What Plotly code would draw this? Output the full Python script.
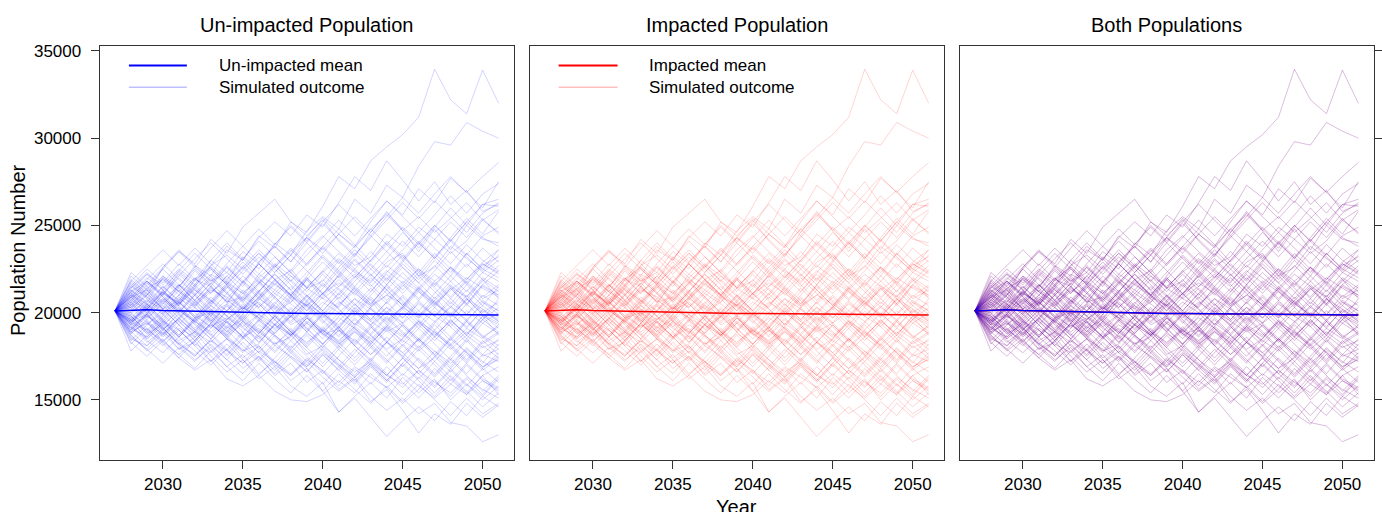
import plotly.graph_objects as go

# Projection years
years = list(range(2027, 2052))

# Mean trajectories of the two populations
unimpacted_mean = [20100, 20130, 20160, 20120, 20100, 20070, 20040, 20020, 19990, 19980, 19960, 19950, 19950,
                   19950, 19940, 19940, 19920, 19920, 19900, 19880, 19890, 19900, 19880, 19860, 19860]
impacted_mean = [20100, 20130, 20160, 20120, 20100, 20070, 20040, 20020, 19990, 19980, 19960, 19950, 19950,
                 19950, 19940, 19940, 19920, 19920, 19900, 19880, 19890, 19900, 19880, 19860, 19860]

# Simulated outcomes (one list per stochastic run)
run_01 = [20100, 21300, 20600, 22000, 21400, 22700, 22100, 23600, 23000, 24400, 23700, 25200, 24600, 26100, 27800, 27100, 28700, 29500, 30200, 31200, 33950, 32200, 31400, 33900, 32000]
run_02 = [20100, 19300, 20500, 21200, 20400, 21900, 22600, 21800, 23200, 22500, 24000, 23300, 24700, 25500, 24800, 26500, 25700, 27300, 26600, 28400, 29800, 29600, 30900, 30400, 30000]
run_03 = [20100, 21100, 22000, 21300, 22400, 21600, 23000, 22300, 21500, 22900, 23800, 22900, 24300, 25400, 24500, 23800, 25200, 26400, 25600, 27100, 26300, 27700, 26900, 27800, 28600]
run_04 = [20100, 21800, 21000, 22600, 23500, 22800, 24200, 23400, 24900, 25700, 26500, 25200, 24400, 25300, 24100, 23200, 24600, 25800, 24700, 23500, 24800, 23600, 25000, 24200, 24000]
run_05 = [20100, 20900, 21800, 21000, 22300, 21500, 22700, 23800, 23000, 24300, 25200, 24400, 25600, 24900, 26300, 27800, 27000, 28700, 27600, 26400, 27500, 26200, 27000, 25800, 26200]
run_06 = [20100, 18800, 19500, 18300, 17600, 18400, 17200, 17900, 16800, 17500, 16400, 17100, 16000, 16700, 15600, 16300, 15200, 14400, 15100, 14200, 14800, 13700, 13500, 12600, 13000]
run_07 = [20100, 19200, 18300, 19000, 17900, 18600, 17500, 16600, 17300, 16200, 16900, 15800, 15200, 16000, 14300, 15100, 14000, 12900, 13800, 14600, 13800, 14900, 14100, 15200, 14600]
run_08 = [20100, 18700, 17800, 18500, 17400, 16700, 17300, 16200, 15800, 16400, 15500, 15000, 14900, 15300, 16100, 15400, 16500, 15700, 14800, 15600, 16800, 15900, 17000, 16100, 15600]
run_09 = [20100, 19400, 20200, 19100, 18200, 18900, 17800, 18500, 17400, 18100, 17000, 16400, 17200, 16300, 15500, 16200, 14900, 15600, 14400, 13100, 14200, 13600, 14800, 14000, 14700]
run_10 = [20100, 19600, 18500, 19200, 18100, 17300, 18000, 16900, 17600, 16500, 17200, 16100, 16800, 15500, 14300, 15200, 16000, 15100, 16300, 15400, 16200, 15000, 15900, 15200, 16200]
run_11 = [20100, 21200, 20400, 21500, 20700, 19800, 20900, 20100, 21300, 20500, 19600, 20800, 21900, 21000, 22200, 21300, 20400, 21600, 22800, 21900, 23000, 22100, 23400, 22500, 23600]
run_12 = [20100, 19000, 19900, 18800, 19700, 20600, 19500, 18600, 19400, 18300, 19300, 20200, 19100, 18200, 19200, 18100, 17300, 18300, 17400, 18500, 17600, 16800, 17800, 16900, 17500]
run_13 = [20100, 20800, 21700, 20900, 20000, 21000, 21900, 21100, 22100, 21200, 22300, 23300, 22400, 21500, 22600, 23600, 22700, 21800, 22900, 24000, 23100, 24300, 25400, 24500, 25800]
run_14 = [20100, 19500, 20300, 19400, 18600, 19500, 18700, 19600, 20500, 19600, 18800, 19800, 18900, 19900, 19000, 18100, 19100, 20100, 19200, 18300, 19300, 18400, 19500, 18600, 19200]
run_15 = [20100, 20600, 19700, 20500, 21400, 20500, 21500, 20600, 19700, 20700, 21700, 20800, 19900, 20900, 21900, 21000, 22000, 21100, 20200, 21200, 20300, 21400, 20400, 21500, 21000]
run_16 = [20100, 21600, 20800, 22000, 21200, 22400, 21500, 20600, 21700, 22800, 21900, 21000, 22100, 23200, 22300, 21400, 20500, 21600, 20700, 19800, 20900, 19900, 21000, 20000, 20600]
run_17 = [20100, 18900, 18100, 19100, 18300, 17500, 18500, 17600, 18600, 17700, 16900, 17900, 17000, 18000, 17100, 16300, 17300, 16400, 17400, 16500, 15700, 16700, 15800, 16800, 16000]
run_18 = [20100, 20400, 19500, 18700, 19700, 20700, 19800, 20800, 21800, 20900, 21900, 21000, 20100, 21100, 20200, 19300, 20300, 21300, 20400, 21500, 20600, 19700, 20800, 19900, 19400]
run_19 = [20100, 21900, 21100, 20200, 21300, 20400, 21500, 22600, 21700, 22800, 23800, 22900, 24000, 23100, 22200, 23300, 24400, 23500, 24600, 23700, 24900, 26000, 25000, 26200, 26500]
run_20 = [20100, 18400, 19300, 20200, 19300, 18400, 19400, 18500, 17700, 18700, 17800, 18800, 19800, 18900, 18000, 19000, 18100, 17200, 18200, 17300, 16400, 17400, 16500, 17600, 17200]
run_21 = [20100, 20900, 20100, 19200, 20200, 19300, 18500, 19500, 18600, 19600, 20600, 19700, 20700, 19800, 18900, 19900, 20900, 20000, 21000, 20100, 21100, 22100, 21200, 22300, 21800]
run_22 = [20100, 19700, 20600, 21500, 20600, 21600, 22600, 21700, 22700, 21800, 20900, 21900, 21000, 20100, 21100, 22100, 21200, 22300, 23300, 22400, 21500, 22600, 21700, 22800, 22200]
run_23 = [20100, 19100, 20000, 19100, 18200, 17500, 18400, 17500, 18500, 19500, 18600, 17700, 18700, 17800, 16900, 17900, 17000, 16100, 17100, 16200, 17200, 16300, 15400, 16400, 15300]
run_24 = [20100, 21400, 22300, 21400, 22400, 23400, 22500, 21600, 22600, 23600, 22700, 21800, 22800, 23800, 22900, 22000, 23000, 24100, 23200, 22300, 23400, 22500, 21600, 22700, 23200]
run_25 = [20100, 20200, 21100, 20200, 19300, 20300, 19400, 20400, 19500, 18600, 19600, 18700, 19700, 18800, 19800, 20800, 19900, 19000, 20000, 19100, 20100, 19200, 18300, 19400, 18800]
run_26 = [20100, 18600, 17900, 18800, 19700, 18800, 19800, 18900, 19900, 20900, 20000, 21000, 20100, 21100, 22100, 21200, 22200, 21300, 20400, 21400, 20500, 21500, 20500, 21600, 21000]
run_27 = [20100, 21000, 21900, 22800, 21900, 21000, 22000, 21100, 20200, 21200, 20300, 19400, 20400, 19500, 18600, 19600, 18700, 19700, 18800, 17900, 18900, 18000, 17100, 18100, 17400]
run_28 = [20100, 19800, 18900, 19800, 20700, 21600, 20700, 21700, 20800, 19900, 20900, 20000, 19100, 18200, 19200, 18300, 19300, 18400, 17500, 18500, 17600, 18600, 17700, 16800, 17700]
run_29 = [20100, 20700, 21800, 21000, 22100, 23100, 24000, 23100, 22200, 23200, 22300, 23300, 24300, 23400, 24500, 25500, 24600, 25700, 24800, 23900, 25000, 24100, 25200, 24300, 23800]
run_30 = [20100, 19300, 18400, 17700, 18600, 17800, 17000, 17900, 17100, 18100, 17200, 16400, 17400, 16500, 17500, 18500, 17600, 18600, 17700, 16800, 17800, 16900, 18000, 17100, 18200]
run_31 = [20100, 22300, 21500, 22500, 21600, 20700, 21700, 20800, 19900, 20900, 21900, 21000, 22000, 21100, 20200, 19300, 20300, 19400, 20400, 19500, 18600, 19600, 18700, 19800, 19300]
run_32 = [20100, 17800, 18700, 19600, 18700, 19700, 20700, 19800, 18900, 19900, 19000, 20000, 21000, 20100, 21100, 20200, 21200, 22200, 21300, 22300, 21400, 20500, 21600, 20600, 20100]
run_33 = [20100, 20500, 19600, 20600, 19700, 18900, 19900, 19000, 18100, 17300, 18300, 17400, 16600, 17600, 16700, 15900, 16900, 16000, 17000, 16100, 15200, 16200, 15300, 16400, 16900]
run_34 = [20100, 21500, 22500, 21700, 22800, 21900, 23000, 24000, 23100, 24100, 23200, 22300, 23300, 24300, 25300, 24400, 25400, 26400, 25500, 24600, 25600, 26700, 25700, 26800, 27400]
run_35 = [20100, 19900, 20800, 19900, 20900, 20000, 19100, 20100, 21100, 20200, 19300, 20300, 19400, 20400, 21400, 20500, 19600, 20600, 21600, 20700, 19800, 20800, 19900, 21000, 20400]
run_36 = [20100, 18200, 19100, 18200, 17400, 18400, 19400, 18500, 19500, 18600, 17700, 18700, 17800, 16900, 17900, 17000, 18000, 19000, 18100, 19100, 18200, 17300, 18400, 17500, 17900]
run_37 = [20100, 21100, 20200, 21200, 22200, 21300, 20400, 21400, 22400, 23400, 22500, 21600, 20700, 21700, 20800, 21800, 22800, 21900, 23000, 22100, 23200, 24200, 23300, 24400, 24900]
run_38 = [20100, 20300, 21200, 22100, 21200, 20300, 19500, 20500, 19600, 18800, 19800, 18900, 19900, 19000, 20000, 19100, 18200, 19200, 18300, 19300, 18400, 19400, 18500, 19600, 20300]
run_39 = [20100, 19400, 18600, 19500, 18600, 19600, 18700, 17800, 18800, 17900, 18900, 19900, 19000, 20000, 19100, 20100, 19200, 18300, 19300, 18400, 19400, 20400, 19500, 20600, 19900]
run_40 = [20100, 20800, 19900, 19000, 20000, 21000, 20100, 21100, 20200, 21200, 22200, 21300, 22300, 23300, 22400, 23400, 22500, 21600, 22600, 21700, 20800, 21800, 20900, 22000, 21400]
run_41 = [20100, 19600, 20500, 19600, 18700, 19700, 18800, 17900, 18900, 18000, 17100, 18100, 17200, 18200, 17300, 16400, 17400, 16500, 15700, 16700, 15800, 16800, 15900, 15000, 15800]
run_42 = [20100, 21700, 20900, 20000, 21000, 22000, 21100, 22100, 21200, 20300, 21300, 22300, 21400, 22400, 23400, 22500, 23500, 22600, 23600, 24600, 23700, 22800, 23900, 23000, 22400]
run_43 = [20100, 20000, 19100, 18300, 19300, 18400, 19400, 20400, 19500, 20500, 19600, 18700, 19700, 18800, 17900, 18900, 18000, 17100, 18100, 17200, 16300, 17300, 16400, 15500, 16400]
run_44 = [20100, 21200, 22200, 21300, 20400, 21400, 20500, 21500, 20600, 21600, 22600, 23600, 22700, 23700, 22800, 23800, 24800, 23900, 24900, 24000, 23100, 24100, 23200, 22300, 23000]
run_45 = [20100, 19100, 19900, 20800, 19900, 19000, 20000, 19100, 20100, 21100, 20200, 21200, 20300, 19400, 20400, 21400, 20500, 21500, 20600, 19700, 20700, 19800, 20800, 19900, 19100]
run_46 = [20100, 20600, 21500, 20600, 21600, 20700, 19800, 18900, 19900, 19000, 18100, 19100, 18200, 19200, 18300, 17400, 18400, 17500, 18500, 19500, 18600, 19600, 18700, 19800, 18700]
run_47 = [20100, 18900, 19800, 20700, 21600, 20700, 21700, 22700, 21800, 22800, 21900, 21000, 22000, 21100, 22100, 23100, 22200, 21300, 22300, 21400, 22400, 23500, 22600, 23700, 22900]
run_48 = [20100, 20400, 21300, 20400, 19500, 18700, 19700, 18800, 19800, 18900, 19900, 19000, 18100, 19100, 18200, 19200, 20200, 19300, 20300, 21300, 20400, 21400, 20500, 21600, 22400]
run_49 = [20100, 19200, 18500, 19400, 20300, 19400, 20400, 19500, 18600, 19600, 18700, 17900, 18900, 18000, 19000, 18100, 17200, 16400, 17400, 16500, 17500, 16600, 17600, 16700, 17400]
run_50 = [20100, 21800, 22700, 23600, 22700, 23700, 22800, 21900, 22900, 22000, 21100, 22100, 21200, 22200, 21300, 20400, 21400, 20500, 21500, 22500, 21600, 22600, 21700, 20800, 21300]
run_51 = [20100, 19800, 19000, 19900, 19000, 18100, 19100, 20100, 19200, 18300, 19300, 18400, 19400, 18500, 19500, 20500, 19600, 20600, 19700, 20700, 21700, 20800, 21800, 20900, 21600]
run_52 = [20100, 20900, 20000, 21000, 20100, 21100, 22100, 21200, 20300, 21300, 20400, 19500, 20500, 19600, 18700, 19700, 18800, 19800, 18900, 18000, 19000, 18100, 17200, 18300, 18900]
run_53 = [20100, 19500, 20400, 19500, 20500, 21500, 22500, 21600, 22600, 21700, 22700, 23700, 22800, 23800, 24800, 23900, 22900, 23900, 23000, 24000, 25000, 24100, 25200, 26200, 26100]
run_54 = [20100, 18700, 17900, 17100, 18000, 17200, 18200, 17300, 16500, 17500, 16700, 17700, 16800, 15900, 16900, 16000, 17000, 16100, 17100, 18100, 17200, 18200, 17300, 18400, 17600]
run_55 = [20100, 21300, 20500, 19600, 20600, 19700, 20700, 19800, 20800, 21800, 20900, 20000, 21000, 20100, 19200, 20200, 19300, 20300, 19400, 18500, 19500, 18600, 19600, 18700, 18100]
run_56 = [20100, 20100, 21000, 21900, 21000, 22000, 21100, 22100, 23100, 22200, 23200, 22300, 21400, 22400, 21500, 22500, 21600, 20700, 21700, 20800, 21800, 20900, 21900, 22900, 23600]
run_57 = [20100, 19000, 19900, 19000, 19900, 19000, 18100, 17300, 18300, 17400, 16500, 17500, 16600, 17600, 16700, 17700, 18700, 17800, 16900, 17900, 17000, 16100, 17100, 16200, 15700]
run_58 = [20100, 21000, 20200, 21100, 22000, 21100, 20200, 19400, 20400, 19500, 20500, 21500, 20600, 21600, 20700, 19800, 20800, 19900, 20900, 19900, 19000, 20000, 19100, 20200, 19600]
run_59 = [20100, 19600, 18800, 19700, 20600, 21500, 20600, 21600, 20700, 21700, 22700, 21800, 20900, 21900, 21000, 22000, 23000, 24000, 23100, 24100, 23200, 22300, 23400, 22500, 22000]
run_60 = [20100, 20300, 19400, 18600, 19500, 18600, 19600, 18700, 19700, 18800, 19800, 18900, 18000, 19000, 18100, 19100, 18200, 19200, 20200, 19300, 20300, 19400, 20500, 19600, 20800]
run_61 = [20100, 22100, 21300, 22500, 23500, 22600, 23700, 24700, 23800, 22900, 23900, 25000, 24100, 25200, 26200, 25300, 24400, 25500, 26600, 25700, 26800, 27800, 26900, 26000, 27500]
run_62 = [20100, 18300, 17500, 18400, 17600, 16800, 17800, 16900, 16100, 17100, 16200, 15400, 16400, 15500, 16500, 15600, 14800, 15800, 14900, 15900, 15000, 14100, 15100, 14200, 14800]
run_63 = [20100, 20700, 21600, 22600, 23600, 22700, 21800, 22800, 23800, 24800, 23900, 24900, 24000, 25100, 24200, 23300, 24300, 25300, 26300, 25400, 26400, 25500, 24600, 25700, 26300]
run_64 = [20100, 19400, 20300, 21200, 20300, 19400, 18500, 19500, 18600, 17700, 18700, 17800, 16900, 17900, 17000, 16100, 17100, 16200, 15300, 16300, 15400, 16400, 15500, 14600, 15400]
run_65 = [20100, 20500, 21400, 20500, 21500, 22500, 21600, 22600, 21700, 20800, 21800, 20900, 21900, 22900, 22000, 23000, 22100, 23100, 24100, 23200, 24200, 25200, 24300, 25400, 24500]
run_66 = [20100, 19800, 18900, 18100, 19000, 18100, 17200, 18200, 17300, 16400, 17400, 18400, 17500, 16600, 15800, 16800, 15900, 16900, 16000, 15100, 16100, 15200, 16200, 15300, 16300]
run_67 = [20100, 21100, 20300, 21300, 20400, 19500, 20500, 21500, 20600, 19700, 18800, 19800, 18900, 19900, 20900, 20000, 21000, 22000, 21100, 22100, 21200, 20300, 21300, 20400, 21500]
run_68 = [20100, 19500, 20400, 19500, 18600, 19600, 20600, 21600, 20700, 21700, 20800, 19900, 20900, 20000, 19100, 18200, 19200, 18300, 19300, 18400, 17500, 18500, 19500, 18600, 17900]
run_69 = [20100, 20900, 21800, 20900, 20000, 19100, 20100, 19200, 20200, 21200, 22200, 21300, 20400, 21400, 22400, 21500, 22500, 23500, 22600, 21700, 22700, 21800, 22800, 21900, 20800]
run_70 = [20100, 18800, 19600, 18700, 19600, 20500, 19600, 18700, 17800, 18800, 19800, 18900, 18000, 17100, 18100, 17200, 18200, 17300, 16400, 17400, 16500, 17500, 18500, 17600, 18500]
run_71 = [20100, 20900, 21300, 20200, 20700, 21900, 21500, 20600, 20900, 22200, 21600, 22500, 21400, 21800, 23000, 22300, 21700, 22900, 23400, 22100, 22600, 23800, 23100, 22400, 23300]
run_72 = [20100, 19500, 19900, 21100, 20600, 19700, 20000, 19100, 19600, 20800, 20200, 19300, 19800, 18700, 19100, 20300, 19500, 18900, 19400, 20600, 19800, 19200, 20100, 19400, 20000]
run_73 = [20100, 21500, 20900, 20300, 21600, 21000, 19900, 20500, 21800, 21100, 20000, 20600, 21900, 20800, 20300, 21500, 20700, 19600, 20300, 21400, 20600, 19800, 20700, 21900, 21200]
run_74 = [20100, 18900, 19400, 18800, 17900, 18300, 19300, 18600, 17800, 18200, 19400, 18800, 17600, 18100, 17300, 16600, 17200, 18300, 17500, 16800, 17400, 18500, 17700, 16900, 17300]
run_75 = [20100, 20300, 21000, 22100, 21500, 22600, 21800, 22300, 23500, 22800, 21900, 22400, 23600, 24400, 23500, 22700, 23200, 24500, 23800, 24900, 24200, 23400, 24100, 25300, 24600]
run_76 = [20100, 19700, 18800, 19300, 18400, 18900, 20000, 19400, 18600, 19100, 18200, 18600, 19700, 19000, 18300, 19400, 18700, 17900, 18500, 19600, 18800, 18100, 18900, 18200, 18800]
run_77 = [20100, 21000, 20500, 19900, 20800, 20300, 21400, 20700, 20100, 20600, 19800, 20900, 20400, 19700, 20500, 21200, 20300, 21000, 20500, 19800, 20700, 21600, 20800, 20200, 19500]
run_78 = [20100, 19100, 18600, 19500, 19000, 18200, 17700, 18500, 17900, 17200, 18100, 17500, 16900, 17700, 17000, 16300, 17100, 16400, 15900, 16700, 16000, 15400, 16300, 15600, 15100]
run_79 = [20100, 20700, 20200, 21200, 20500, 21400, 22200, 21700, 21100, 22000, 22800, 22100, 21500, 22300, 23100, 22400, 21800, 22700, 22000, 21300, 22200, 21500, 20900, 21800, 22700]
run_80 = [20100, 19900, 19300, 20000, 20600, 19800, 19200, 19700, 19100, 18500, 19300, 18700, 19400, 18800, 18200, 18900, 18300, 19100, 18400, 17800, 18600, 17900, 18700, 18000, 18400]
run_81 = [20100, 20400, 21400, 21900, 21200, 20600, 21300, 20900, 20200, 20800, 21600, 21000, 20400, 21100, 21700, 21100, 20400, 21000, 21800, 21200, 20500, 21300, 22000, 21400, 20900]
run_82 = [20100, 19300, 19800, 19100, 19600, 18900, 18300, 19200, 18500, 19300, 18700, 18000, 18800, 18200, 19000, 18400, 17600, 18300, 17700, 18500, 17800, 17100, 17900, 17200, 16600]
run_83 = [20100, 21400, 22200, 21600, 22500, 21800, 22700, 23300, 22500, 23400, 22600, 23500, 24300, 23600, 24500, 23700, 24800, 25600, 24700, 25500, 24600, 25400, 26300, 25300, 25900]
run_84 = [20100, 18500, 18100, 18900, 18200, 17600, 18400, 17800, 17100, 17800, 17200, 16500, 17300, 16700, 16000, 16900, 16300, 15700, 16500, 15800, 15100, 15900, 15300, 16100, 15500]
run_85 = [20100, 20600, 20000, 20700, 20100, 19500, 20200, 19600, 20300, 19700, 19100, 19800, 20500, 19900, 20600, 20000, 19300, 20000, 19400, 20100, 19500, 20300, 19600, 20400, 19700]
run_86 = [20100, 20000, 20700, 20200, 21000, 20400, 21200, 21800, 21100, 21900, 21300, 20600, 21400, 20800, 21500, 22200, 21500, 22400, 21700, 22500, 21800, 22600, 21900, 22800, 22300]
run_87 = [20100, 19400, 19000, 18400, 19100, 18600, 19300, 18700, 19500, 18900, 18200, 18900, 18300, 19000, 18400, 19200, 18500, 19300, 18700, 19500, 18900, 18200, 19100, 18500, 19300]
run_88 = [20100, 21200, 21800, 21100, 20500, 21300, 20700, 20100, 20900, 20300, 21100, 20500, 19800, 20600, 20000, 20800, 20200, 19500, 20300, 19700, 20500, 19900, 19200, 20100, 19500]
run_89 = [20100, 19600, 20200, 20800, 20200, 19600, 20400, 19800, 19200, 19900, 19300, 18700, 19500, 18900, 19700, 19100, 18400, 19200, 18600, 19400, 18700, 19500, 18800, 19600, 18900]
run_90 = [20100, 20500, 19800, 19300, 20100, 19500, 18900, 19600, 20300, 19700, 20400, 19800, 20600, 19900, 19300, 20100, 19500, 20300, 19700, 20500, 19800, 20600, 19900, 20700, 20100]

runs = [run_01, run_02, run_03, run_04, run_05, run_06, run_07, run_08, run_09, run_10,
        run_11, run_12, run_13, run_14, run_15, run_16, run_17, run_18, run_19, run_20,
        run_21, run_22, run_23, run_24, run_25, run_26, run_27, run_28, run_29, run_30,
        run_31, run_32, run_33, run_34, run_35, run_36, run_37, run_38, run_39, run_40,
        run_41, run_42, run_43, run_44, run_45, run_46, run_47, run_48, run_49, run_50,
        run_51, run_52, run_53, run_54, run_55, run_56, run_57, run_58, run_59, run_60,
        run_61, run_62, run_63, run_64, run_65, run_66, run_67, run_68, run_69, run_70,
        run_71, run_72, run_73, run_74, run_75, run_76, run_77, run_78, run_79, run_80,
        run_81, run_82, run_83, run_84, run_85, run_86, run_87, run_88, run_89, run_90]

y_ticks = [15000, 20000, 25000, 30000, 35000]
x_ticks = [2030, 2035, 2040, 2045, 2050]
panel_titles = ["Un-impacted Population", "Impacted Population", "Both Populations"]

BLUE_RUN = "rgba(0,0,255,0.17)"
RED_RUN = "rgba(255,0,0,0.17)"
BLUE_RUN_BOTH = "rgba(0,0,255,0.14)"
RED_RUN_BOTH = "rgba(255,0,0,0.14)"
BLUE = "rgb(0,0,255)"
RED = "rgb(255,0,0)"
FONT = "Liberation Sans, Arial, sans-serif"
W, H = 1382, 512

fig = go.Figure()


def add_runs(color, axis_no):
    for r in runs:
        fig.add_trace(go.Scatter(x=years, y=r, mode="lines", line=dict(color=color, width=1),
                                 xaxis=f"x{axis_no}", yaxis=f"y{axis_no}",
                                 hoverinfo="skip", showlegend=False))


def add_mean(values, color, axis_no):
    fig.add_trace(go.Scatter(x=years, y=values, mode="lines", line=dict(color=color, width=1.5),
                             xaxis=f"x{axis_no}", yaxis=f"y{axis_no}",
                             hoverinfo="skip", showlegend=False))


add_runs(BLUE_RUN, 1)
add_mean(unimpacted_mean, BLUE, 1)
add_runs(RED_RUN, 2)
add_mean(impacted_mean, RED, 2)
add_runs(RED_RUN_BOTH, 3)
add_runs(BLUE_RUN_BOTH, 3)
add_mean(impacted_mean, RED, 3)
add_mean(unimpacted_mean, BLUE, 3)

# pixel boxes of the three panels
panels = [(99.7, 514.3), (530.0, 944.7), (960.3, 1374.7)]
top_px, bottom_px = 42.0, 459.3
y_dom = [(H - bottom_px) / H, (H - top_px) / H]

common_x = dict(range=[2026.04, 2051.96], tickvals=x_ticks, ticks="outside", ticklen=8,
                tickcolor="#333333", tickwidth=1, showline=True, mirror=True, linecolor="#333333",
                linewidth=1, showgrid=False, zeroline=False,
                tickfont=dict(family=FONT, size=17, color="#000000"), ticklabelstandoff=1)
common_y = dict(range=[11570, 35300], tickvals=y_ticks, showline=True, mirror=True,
                linecolor="#333333", linewidth=1, showgrid=False, zeroline=False,
                tickcolor="#333333", tickwidth=1, ticklen=8)

layout = dict(width=W, height=H, margin=dict(l=0, r=0, t=0, b=0),
              paper_bgcolor="white", plot_bgcolor="white",
              font=dict(family=FONT, color="#000000"), showlegend=False)

for i, (x0, x1) in enumerate(panels, start=1):
    layout[f"xaxis{i}"] = dict(common_x, domain=[x0 / W, x1 / W], anchor=f"y{i}")
    ydef = dict(common_y, domain=y_dom, anchor=f"x{i}")
    if i == 1:
        ydef.update(ticks="outside", showticklabels=True, tickformat="d",
                    tickfont=dict(family=FONT, size=17, color="#000000"), ticklabelstandoff=6)
    elif i == 2:
        ydef.update(ticks="", showticklabels=False)
    else:
        ydef.update(ticks="outside", showticklabels=False, side="right")
    layout[f"yaxis{i}"] = ydef

fig.update_layout(**layout)

annotations = []
shapes = []
for i, (x0, x1) in enumerate(panels):
    annotations.append(dict(text=panel_titles[i], x=(x0 + x1) / 2 / W, y=(H - 21) / H,
                            xref="paper", yref="paper", xanchor="center", yanchor="middle",
                            showarrow=False, font=dict(family=FONT, size=20, color="#000000")))

annotations.append(dict(text="Population Number", x=18 / W, y=(H - 248) / H, xref="paper",
                        yref="paper", xanchor="center", yanchor="middle", textangle=-90,
                        showarrow=False, font=dict(family=FONT, size=20, color="#000000")))
annotations.append(dict(text="Year", x=737 / W, y=(H - 507) / H, xref="paper", yref="paper",
                        xanchor="center", yanchor="middle", showarrow=False,
                        font=dict(family=FONT, size=20, color="#000000")))

# legends inside the first two panels
legend_items = [
    (129, 187, 217, "Un-impacted mean", BLUE, "rgba(0,0,255,0.25)"),
    (559, 618, 647, "Impacted mean", RED, "rgba(255,0,0,0.25)"),
]
for lx0, lx1, tx, label, c_mean, c_run in legend_items:
    for ypx, col, wd, txt in [(62, c_mean, 2, label), (84, c_run, 1.5, "Simulated outcome")]:
        shapes.append(dict(type="line", xref="paper", yref="paper", x0=lx0 / W, x1=lx1 / W,
                           y0=(H - ypx) / H, y1=(H - ypx) / H, line=dict(color=col, width=wd)))
        annotations.append(dict(text=txt, x=tx / W, y=(H - ypx) / H, xref="paper", yref="paper",
                                xanchor="left", yanchor="middle", showarrow=False,
                                font=dict(family=FONT, size=17, color="#000000")))

fig.update_layout(annotations=annotations, shapes=shapes)
fig.write_html("out.html")
